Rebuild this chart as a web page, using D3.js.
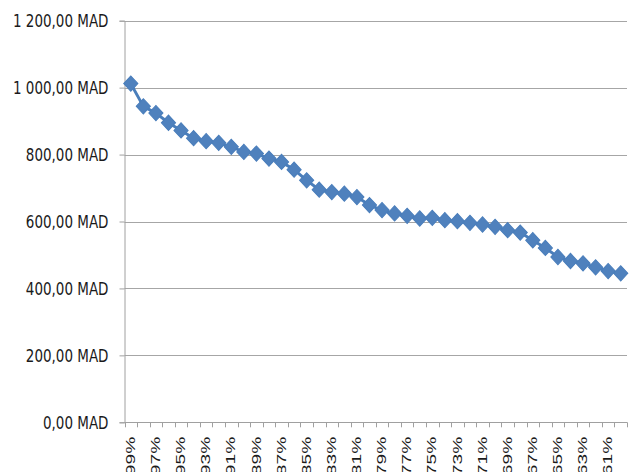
<!DOCTYPE html>
<html>
<head>
<meta charset="utf-8">
<script src="https://cdn.jsdelivr.net/npm/d3@7/dist/d3.min.js"></script>
<style>
  html, body { margin: 0; padding: 0; background: #fff; }
  svg { display: block; }
</style>
</head>
<body>
<svg id="chart" width="630" height="472"></svg>
<script>
// Categories (share, descending) and price per category in MAD
const categories = [
  "99%", "98%", "97%", "96%", "95%", "94%", "93%", "92%", "91%", "90%",
  "89%", "88%", "87%", "86%", "85%", "84%", "83%", "82%", "81%", "80%",
  "79%", "78%", "77%", "76%", "75%", "74%", "73%", "72%", "71%", "70%",
  "69%", "68%", "67%", "66%", "65%", "64%", "63%", "62%", "61%", "60%"
];
const prices = [
  1012, 944, 924, 895, 872, 849, 840, 835, 823, 808,
  803, 788, 778, 755, 723, 695, 688, 683, 673, 649,
  634, 624, 617, 609, 611, 604, 601, 596, 591, 584,
  574, 567, 544, 521, 494, 482, 475, 463, 452, 445
];
const yTicks = [0, 200, 400, 600, 800, 1000, 1200];
const xTickLabels = [
  "99%", "97%", "95%", "93%", "91%", "89%", "87%", "85%", "83%", "81%",
  "79%", "77%", "75%", "73%", "71%", "69%", "67%", "65%", "63%", "61%"
];

const svg = d3.select("#chart");
const W = 630, H = 472;
const plot = { left: 124.5, right: 627, top: 20.7, bottom: 422.3 };

const x = d3.scaleBand().domain(categories).range([plot.left, plot.right]).padding(0);
const y = d3.scaleLinear().domain([0, 1200]).range([plot.bottom, plot.top]);

const frLocale = d3.formatLocale({ decimal: ",", thousands: " ", grouping: [3], currency: ["", " MAD"] });
const fmt = v => frLocale.format(",.2f")(v) + " MAD";

const gridColor = "#a6a6a6";
const axisColor = "#a0a0a0";
const blue = "#4a7ebb";

svg.append("rect").attr("width", W).attr("height", H).attr("fill", "#fff");

// Horizontal gridlines
svg.append("g").selectAll("line").data(yTicks.filter(d => d > 0)).join("line")
  .attr("x1", plot.left).attr("x2", plot.right)
  .attr("y1", d => Math.round(y(d)) + 0.5).attr("y2", d => Math.round(y(d)) + 0.5)
  .attr("stroke", gridColor).attr("stroke-width", 1);

// Y axis with tick marks on the left
const yAxis = d3.axisLeft(y).tickValues(yTicks).tickSize(5).tickPadding(11).tickFormat(fmt);
const gy = svg.append("g").attr("transform", `translate(${plot.left},0)`).call(yAxis);
gy.select(".domain").attr("stroke", axisColor);
gy.selectAll(".tick line").attr("stroke", axisColor);
gy.selectAll(".tick text")
  .attr("fill", "#1a1a1a")
  .attr("transform", "scale(1,1.2)")
  .style("font-family", "'Liberation Sans Narrow', 'DejaVu Sans Condensed', sans-serif")
  .style("font-size", "15px");

// X axis: baseline and ticks at category boundaries
const xg = svg.append("g");
xg.append("line")
  .attr("x1", plot.left).attr("x2", plot.right)
  .attr("y1", Math.round(plot.bottom) + 0.5).attr("y2", Math.round(plot.bottom) + 0.5)
  .attr("stroke", axisColor);
const boundaries = categories.map(c => x(c)).concat([x.range()[1]]);
xg.selectAll("line.tk").data(boundaries).join("line").attr("class", "tk")
  .attr("x1", d => Math.round(d) + 0.5).attr("x2", d => Math.round(d) + 0.5)
  .attr("y1", plot.bottom).attr("y2", plot.bottom + 5)
  .attr("stroke", axisColor);

// Rotated category labels, every other category
xg.selectAll("text").data(xTickLabels).join("text")
  .attr("transform", d => `translate(${x(d) + x.bandwidth() / 2},${plot.bottom + 14.5}) rotate(-90) scale(1.6,1)`)
  .attr("text-anchor", "end")
  .attr("dominant-baseline", "central")
  .attr("fill", "#1a1a1a")
  .style("font-family", "'Liberation Sans', Arial, sans-serif")
  .style("font-size", "12px")
  .text(d => d);

// Series line
const line = d3.line()
  .x((d, i) => x(categories[i]) + x.bandwidth() / 2)
  .y(d => y(d));
svg.append("path").datum(prices)
  .attr("d", line)
  .attr("fill", "none")
  .attr("stroke", blue)
  .attr("stroke-width", 3)
  .attr("stroke-linejoin", "round");

// Diamond markers
const marker = d3.symbol().type(d3.symbolSquare).size(100);
svg.append("g").selectAll("path").data(prices).join("path")
  .attr("transform", (d, i) => `translate(${x(categories[i]) + x.bandwidth() / 2},${y(d)}) scale(1,1.08) rotate(45)`)
  .attr("d", marker)
  .attr("fill", "#4f81bd")
  .attr("stroke", blue)
  .attr("stroke-width", 1);
</script>
</body>
</html>
